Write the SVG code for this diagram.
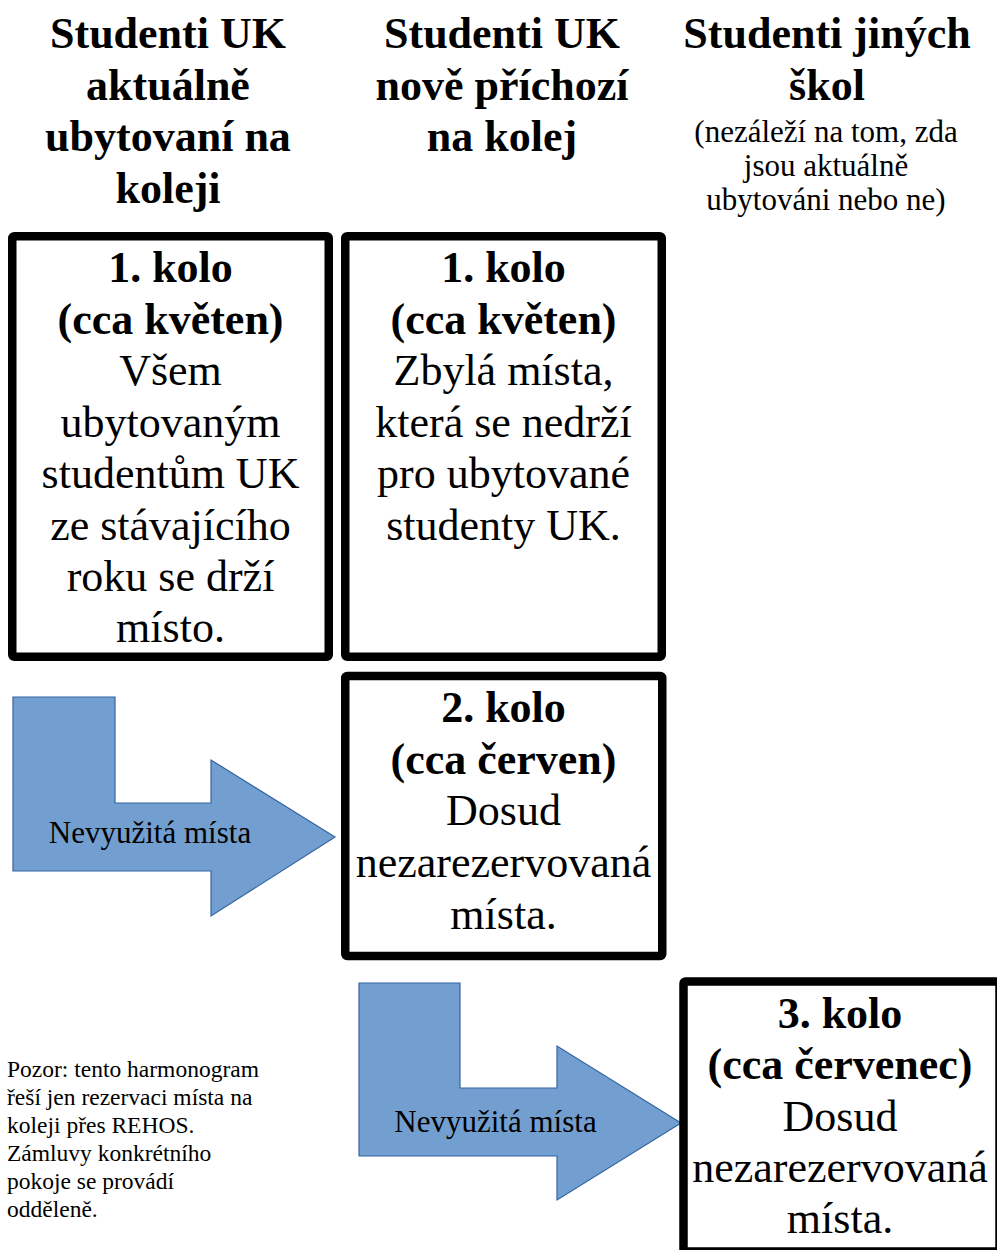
<svg xmlns="http://www.w3.org/2000/svg" width="997" height="1250" viewBox="0 0 997 1250">
<style>
.t{font-family:"Liberation Serif","Times New Roman",serif;fill:#000;text-anchor:middle}
.h{font-size:44px;font-weight:bold}
.b{font-size:44px}
.bb{font-size:44px;font-weight:bold}
.s{font-size:31px}
.a{font-size:31px}
.n{font-family:"Liberation Serif","Times New Roman",serif;font-size:23.5px;fill:#000}
.box{fill:#fff;stroke:#000;stroke-width:8.5}
.arr{fill:#729fcf;stroke:#3465a4;stroke-width:1.2}
</style>
<rect width="997" height="1250" fill="#fff"/>
<g id="header1" class="t h">
<text x="168" y="48">Studenti UK</text>
<text x="168" y="99.5">aktuálně</text>
<text x="168" y="151">ubytovaní na</text>
<text x="168" y="202.5">koleji</text>
</g>
<g id="header2" class="t h">
<text x="502" y="48">Studenti UK</text>
<text x="502" y="99.5">nově příchozí</text>
<text x="502" y="151">na kolej</text>
</g>
<g id="header3" class="t">
<text class="h" x="827" y="48">Studenti jiných</text>
<text class="h" x="827" y="99.5">škol</text>
<text class="s" x="826" y="142">(nezáleží na tom, zda</text>
<text class="s" x="826" y="176">jsou aktuálně</text>
<text class="s" x="826" y="210">ubytováni nebo ne)</text>
</g>
<g id="connectors">
<polygon class="arr" points="13,697 115,697 115,803 211,803 211,760 335,837 211,916 211,871 13,871"/>
<text class="t a" x="150" y="843">Nevyužitá místa</text>
<polygon class="arr" points="359,983 460,983 460,1088 557,1088 557,1046 681,1123 557,1200 557,1156 359,1156"/>
<text class="t a" x="495.5" y="1132">Nevyužitá místa</text>
</g>
<g id="box1">
<rect class="box" x="12.25" y="236.25" width="316.5" height="420.5" rx="2"/>
<g class="t">
<text class="bb" x="170.5" y="282">1. kolo</text>
<text class="bb" x="170.5" y="333.5">(cca květen)</text>
<text class="b" x="170.5" y="385">Všem</text>
<text class="b" x="170.5" y="436.5">ubytovaným</text>
<text class="b" x="170.5" y="488">studentům UK</text>
<text class="b" x="170.5" y="539.5">ze stávajícího</text>
<text class="b" x="170.5" y="591">roku se drží</text>
<text class="b" x="170.5" y="642">místo.</text>
</g>
</g>
<g id="box2">
<rect class="box" x="345.25" y="236.25" width="316.5" height="420.5" rx="2"/>
<g class="t">
<text class="bb" x="503.5" y="282">1. kolo</text>
<text class="bb" x="503.5" y="333.5">(cca květen)</text>
<text class="b" x="503.5" y="385">Zbylá místa,</text>
<text class="b" x="503.5" y="436.5">která se nedrží</text>
<text class="b" x="503.5" y="488">pro ubytované</text>
<text class="b" x="503.5" y="539.5">studenty UK.</text>
</g>
</g>
<g id="box3">
<rect class="box" x="345.25" y="676" width="317" height="280" rx="2"/>
<g class="t">
<text class="bb" x="503.5" y="722">2. kolo</text>
<text class="bb" x="503.5" y="773.5">(cca červen)</text>
<text class="b" x="503.5" y="825">Dosud</text>
<text class="b" x="503.5" y="877">nezarezervovaná</text>
<text class="b" x="503.5" y="928.5">místa.</text>
</g>
</g>
<g id="box4">
<rect class="box" x="683.5" y="981.5" width="316" height="270" rx="2" stroke-width="8"/>
<g class="t">
<text class="bb" x="840" y="1028">3. kolo</text>
<text class="bb" x="840" y="1079">(cca červenec)</text>
<text class="b" x="840" y="1130.5">Dosud</text>
<text class="b" x="840" y="1182">nezarezervovaná</text>
<text class="b" x="840" y="1233">místa.</text>
</g>
</g>
<g id="note" class="n">
<text x="7" y="1077">Pozor: tento harmonogram</text>
<text x="7" y="1105">řeší jen rezervaci místa na</text>
<text x="7" y="1133">koleji přes REHOS.</text>
<text x="7" y="1161">Zámluvy konkrétního</text>
<text x="7" y="1189">pokoje se provádí</text>
<text x="7" y="1217">odděleně.</text>
</g>
</svg>
